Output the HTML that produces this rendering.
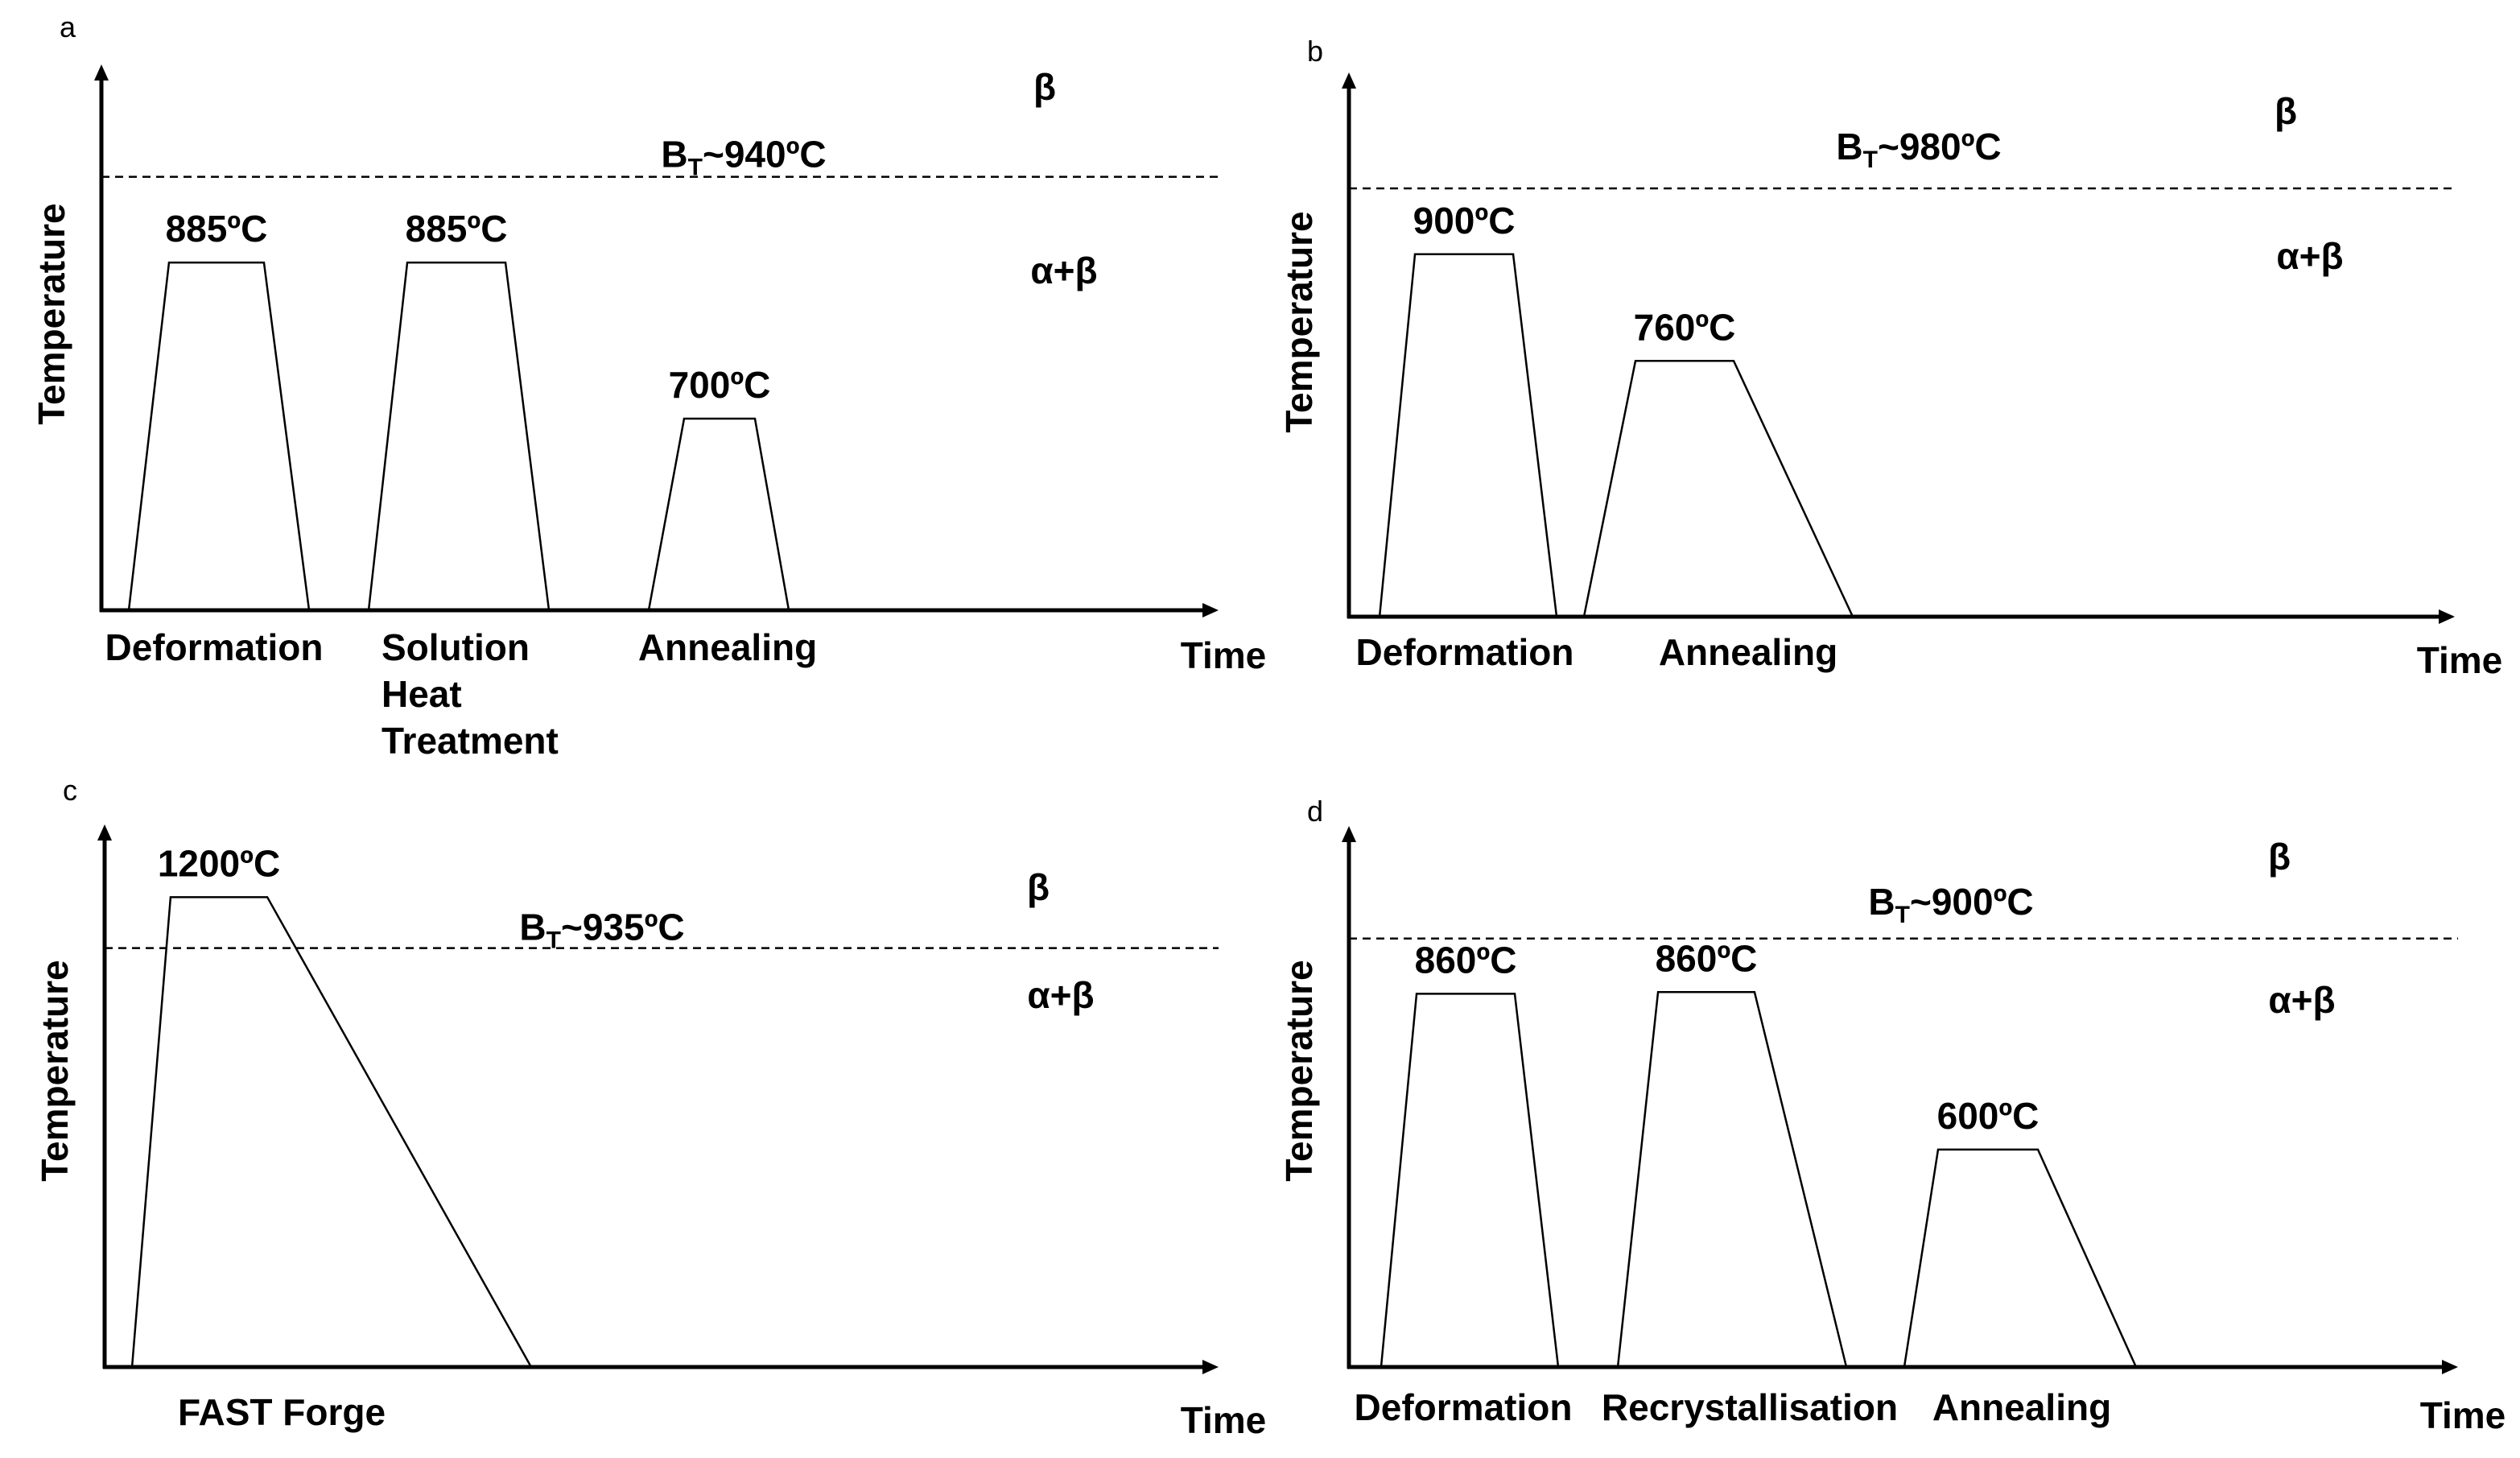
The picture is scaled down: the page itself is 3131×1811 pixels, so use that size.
<!DOCTYPE html>
<html><head><meta charset="utf-8"><style>
html,body{margin:0;padding:0;background:#fff;}
svg{display:block;}
text{font-family:"Liberation Sans",sans-serif;fill:#000;}
.b{font-weight:bold;font-size:46px;}
</style></head><body>
<svg id="chart" width="3131" height="1811" viewBox="0 0 3131 1811" xmlns="http://www.w3.org/2000/svg"></svg>
<script>
// Panel a
const aTimes = [[2.45,6.05,14.55,18.59],[23.92,27.38,36.17,40.06],[48.99,52.16,58.50,61.53]];
const aLevels = [0.637,0.637,0.351];
const aTempLabels = ["885ºC","885ºC","700ºC"];
const aStepNames = [["Deformation"],["Solution","Heat","Treatment"],["Annealing"]];
const aTransus = 0.794;
const aTransusLabel = "940ºC";
// Panel b
const bTimes = [[2.77,5.97,14.85,18.78],[21.25,25.91,34.79,45.56]];
const bLevels = [0.666,0.470];
const bTempLabels = ["900ºC","760ºC"];
const bStepNames = [["Deformation"],["Annealing"]];
const bTransus = 0.787;
const bTransusLabel = "980ºC";
// Panel c
const cTimes = [[2.46,5.92,14.60,38.29]];
const cLevels = [0.866];
const cTempLabels = ["1200ºC"];
const cStepNames = [["FAST Forge"]];
const cTransus = 0.772;
const cTransusLabel = "935ºC";
// Panel d
const dTimes = [[2.90,6.10,14.95,18.87],[24.24,27.87,36.57,44.85],[50.07,53.12,62.12,70.97]];
const dLevels = [0.690,0.693,0.402];
const dTempLabels = ["860ºC","860ºC","600ºC"];
const dStepNames = [["Deformation"],["Recrystallisation"],["Annealing"]];
const dTransus = 0.792;
const dTransusLabel = "900ºC";

const NS="http://www.w3.org/2000/svg";
const svg=document.getElementById('chart');
function el(tag,attrs,parent,txt){const e=document.createElementNS(NS,tag);for(const k in attrs)e.setAttribute(k,attrs[k]);if(txt!==undefined)e.textContent=txt;(parent||svg).appendChild(e);return e;}

function panel(cfg,times,levels,tempLabels,stepNames,transus,transusLabel){
  const g=el('g',{});
  
  
  const xs=t=>cfg.x0+(cfg.x1-cfg.x0)*t/100;
  const ys=f=>cfg.y0-(cfg.y0-cfg.yTop)*f;
  const pl=el('text',{x:cfg.x0-52,y:cfg.letterY,'font-size':36},g,cfg.id);
  
  
  const dl=el('line',{x1:cfg.x0,x2:cfg.x1,y1:ys(transus),y2:ys(transus),stroke:'#000','stroke-width':2.5,'stroke-dasharray':'10 7'},g);
  
  
  const tl=el('text',{x:cfg.btX,y:ys(transus)-cfg.btOff,'text-anchor':'middle',class:'b'},g);
  
  
  el('tspan',{},tl,'B');
  el('tspan',{dy:10,'font-size':30},tl,'T');
  el('tspan',{dy:-10},tl,'~'+transusLabel);
  times.forEach((t,i)=>{
    const y=ys(levels[i]);
    const p=el('polyline',{points:`${xs(t[0])},${cfg.y0} ${xs(t[1])},${y} ${xs(t[2])},${y} ${xs(t[3])},${cfg.y0}`,fill:'none',stroke:'#000','stroke-width':2.5},g);
    
    
    const tt=el('text',{x:(xs(t[1])+xs(t[2]))/2,y:y-26,'text-anchor':'middle',class:'b'},g,tempLabels[i]);
    
    
    stepNames[i].forEach((s,j)=>{
      const multi=stepNames[i].length>1;
      const sx = multi ? xs(t[0])+16 : cfg.nameX[i];
      const st=el('text',{x:sx,y:cfg.nameY+j*58,'text-anchor':multi?'start':'middle',class:'b'},g,s);
      
      
    });
  });
  const ya=el('line',{x1:cfg.x0,x2:cfg.x0,y1:cfg.y0+2,y2:cfg.yTop+12,stroke:'#000','stroke-width':5},g);
  
  
  el('polygon',{points:`${cfg.x0-9},${cfg.yTop+20} ${cfg.x0+9},${cfg.yTop+20} ${cfg.x0},${cfg.yTop}`},g);
  const xa=el('line',{x1:cfg.x0-2,x2:cfg.x1-12,y1:cfg.y0,y2:cfg.y0,stroke:'#000','stroke-width':5},g);
  
  
  el('polygon',{points:`${cfg.x1-20},${cfg.y0-9} ${cfg.x1-20},${cfg.y0+9} ${cfg.x1},${cfg.y0}`},g);
  const yt=el('text',{x:0,y:0,transform:`translate(${cfg.x0-46},${cfg.tempY}) rotate(-90)`,'text-anchor':'middle',class:'b'},g,'Temperature');
  
  
  const xt=el('text',{x:cfg.x1+6,y:cfg.nameY+10,'text-anchor':'middle',class:'b'},g,'Time');
  
  
  const b=el('text',{x:cfg.betaX,y:cfg.betaY,'text-anchor':'middle',class:'b'},g,'β');
  
  
  const ab=el('text',{x:cfg.abX,y:cfg.abY,'text-anchor':'middle',class:'b'},g,'α+β');
  
  
}
panel({id:'a',x0:126,x1:1514,y0:758,yTop:80,letterY:46,btX:924,btOff:12,nameY:820,nameX:[266,0,904],tempY:390,betaX:1298,betaY:124,abX:1322,abY:352},aTimes,aLevels,aTempLabels,aStepNames,aTransus,aTransusLabel);
panel({id:'b',x0:1676,x1:3050,y0:766,yTop:90,letterY:76,btX:2384,btOff:36,nameY:826,nameX:[1820,2172],tempY:400,betaX:2840,betaY:154,abX:2870,abY:334},bTimes,bLevels,bTempLabels,bStepNames,bTransus,bTransusLabel);
panel({id:'c',x0:130,x1:1514,y0:1698,yTop:1024,letterY:994,btX:748,btOff:10,nameY:1770,nameX:[350],tempY:1330,betaX:1290,betaY:1118,abX:1318,abY:1252},cTimes,cLevels,cTempLabels,cStepNames,cTransus,cTransusLabel);
panel({id:'d',x0:1676,x1:3054,y0:1698,yTop:1026,letterY:1020,btX:2424,btOff:30,nameY:1764,nameX:[1818,2174,2512],tempY:1330,betaX:2832,betaY:1080,abX:2860,abY:1258},dTimes,dLevels,dTempLabels,dStepNames,dTransus,dTransusLabel);
</script>
</body></html>
